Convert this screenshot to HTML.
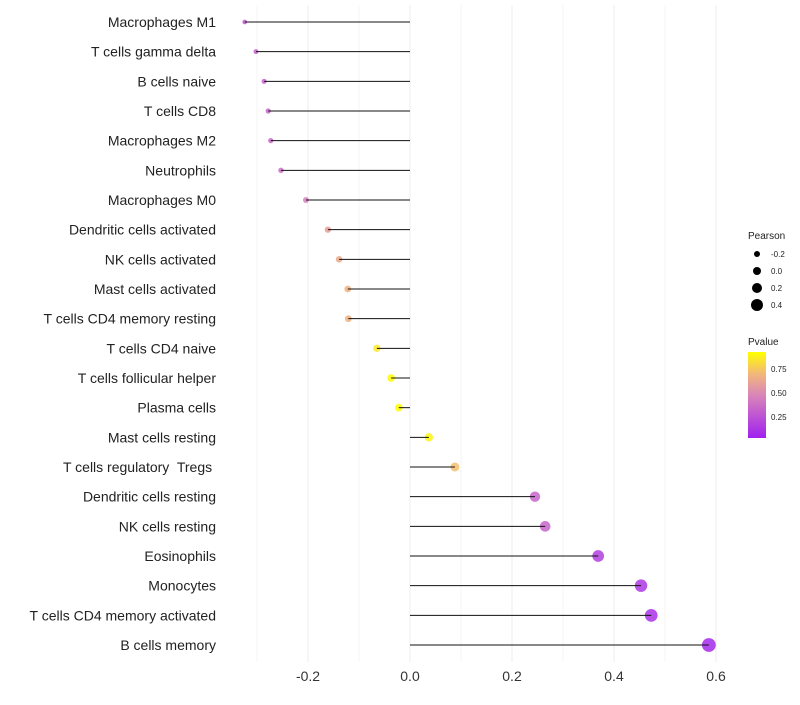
<!DOCTYPE html>
<html><head><meta charset="utf-8"><style>
body{margin:0;background:#fff;font-family:"Liberation Sans",sans-serif}
</style></head><body>
<svg id="chart" width="800" height="700" xmlns="http://www.w3.org/2000/svg">
<defs><linearGradient id="pg" x1="0" y1="1" x2="0" y2="0">
<stop offset="0" stop-color="#a020f0"/><stop offset="0.5" stop-color="#d986b8"/><stop offset="0.75" stop-color="#f2b878"/><stop offset="1" stop-color="#ffff00"/></linearGradient></defs>
<g id="grid"></g><g id="marks"></g><g id="labels"></g><g id="legend"></g>
</svg>
<script>
const categories=["Macrophages M1","T cells gamma delta","B cells naive","T cells CD8","Macrophages M2","Neutrophils","Macrophages M0","Dendritic cells activated","NK cells activated","Mast cells activated","T cells CD4 memory resting","T cells CD4 naive","T cells follicular helper","Plasma cells","Mast cells resting","T cells regulatory\u00a0 Tregs\u00a0","Dendritic cells resting","NK cells resting","Eosinophils","Monocytes","T cells CD4 memory activated","B cells memory"];
const pearson=[-0.324,-0.302,-0.286,-0.278,-0.273,-0.253,-0.204,-0.161,-0.139,-0.122,-0.121,-0.065,-0.037,-0.022,0.037,0.088,0.245,0.265,0.369,0.453,0.473,0.586];
const pvalue=[0.28,0.32,0.33,0.34,0.35,0.38,0.47,0.6,0.64,0.68,0.68,0.86,0.92,0.93,0.9,0.73,0.34,0.34,0.18,0.14,0.12,0.08];
const xTicks=[-0.2,0.0,0.2,0.4,0.6];
const ns="http://www.w3.org/2000/svg";
const x=v=>410+v*510;
const y=i=>22+i*(623/21);
const r=v=>4+5*v;
function col(p){
 const t=Math.max(0,Math.min(1,(p-0.04)/0.89));
 const s=[[0,[160,32,240]],[0.5,[217,134,184]],[0.75,[242,184,120]],[1,[255,255,0]]];
 for(let k=1;k<s.length;k++){if(t<=s[k][0]){const a=s[k-1],b=s[k],f=(t-a[0])/(b[0]-a[0]);
 return "rgb("+a[1].map((c,j)=>Math.round(c+(b[1][j]-c)*f)).join(",")+")";}}
 return "rgb(255,255,0)";}
function mk(tag,at,parent){const e=document.createElementNS(ns,tag);for(const k in at)e.setAttribute(k,at[k]);document.getElementById(parent).appendChild(e);return e;}
for(let v=-0.3;v<=0.61;v+=0.1){const g=mk("line",{x1:x(v),x2:x(v),y1:5,y2:662,stroke:"#f0f0f0","stroke-width":Math.abs(Math.round(v*10))%2===0?1.2:0.6},"grid");

}
xTicks.forEach(t=>{const e=mk("text",{x:x(t),y:681,"text-anchor":"middle","font-size":14,fill:"#333"},"labels");e.textContent=t.toFixed(1);

});
categories.forEach((c,i)=>{
 const cy=y(i);
 const d=mk("circle",{cx:x(pearson[i]),cy:cy,r:r(pearson[i]),fill:col(pvalue[i]),"fill-opacity":0.85},"marks");
 
 
 const l=mk("line",{x1:x(0),x2:x(pearson[i]),y1:cy,y2:cy,stroke:"#111","stroke-width":1},"marks");
 
 
 const t=mk("text",{x:216,y:cy+5,"text-anchor":"end","font-size":14,fill:"#222"},"labels");t.textContent=c;
 
 
});
const legSizes=[-0.2,0.0,0.2,0.4];
let lt=mk("text",{x:748,y:239,"font-size":10,fill:"#222"},"legend");lt.textContent="Pearson";


legSizes.forEach((s,k)=>{const cy=254+k*17;
 const c=mk("circle",{cx:757,cy:cy,r:r(s),fill:"#000"},"legend");
 
 
 const t=mk("text",{x:771,y:cy+3,"font-size":8,fill:"#222"},"legend");t.textContent=s.toFixed(1);
 
 });
lt=mk("text",{x:748,y:345,"font-size":10,fill:"#222"},"legend");lt.textContent="Pvalue";


const cb=mk("rect",{x:748,y:352,width:18,height:86,fill:"url(#pg)"},"legend");


[[0.75,369],[0.50,393],[0.25,417]].forEach(([v,yy])=>{
 const t=mk("text",{x:771,y:yy+3,"font-size":8,fill:"#222"},"legend");t.textContent=v.toFixed(2);
 
 });
</script>
</body></html>
